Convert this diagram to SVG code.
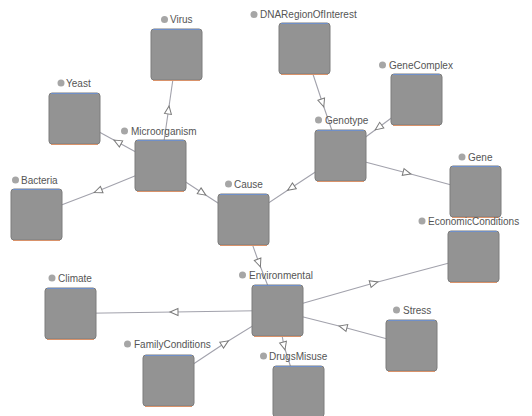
<svg xmlns="http://www.w3.org/2000/svg" width="532" height="416" viewBox="0 0 532 416">
<defs>
<marker id="tri" viewBox="-1 -5 11 10" refX="4" refY="0" markerWidth="11" markerHeight="10" markerUnits="userSpaceOnUse" orient="auto">
<path d="M0,-3.5 L8,0 L0,3.5 Z" fill="#ffffff" stroke="#7a7a7a" stroke-width="1"/>
</marker>
<style>
.edge{fill:none;stroke:#a2a2ac;stroke-width:1.1;marker-mid:url(#tri)}
.box{fill:#939393;stroke:#7c7c7c;stroke-width:1}
.top{stroke:#6f8fc8;stroke-width:1}
.bot{stroke:#d9926a;stroke-width:1}
.dot{fill:#a6a6a6}
.lbl{font-family:"Liberation Sans",Arial,sans-serif;font-size:10px;fill:#555555}
</style>
</defs>
<rect width="532" height="416" fill="#ffffff"/>
<g id="connectors">
<polyline class="edge" points="160.5,165.5 168.5,110 176.5,54.5"/>
<polyline class="edge" points="160.5,165.5 117.5,142 74.5,118.5"/>
<polyline class="edge" points="160.5,165.5 98,191 36.5,214.5"/>
<polyline class="edge" points="160.5,165.5 202.5,193 243.5,219.5"/>
<polyline class="edge" points="340.5,155.5 291,188 243.5,219.5"/>
<polyline class="edge" points="304.5,48.5 322.5,103 340.5,155.5"/>
<polyline class="edge" points="416.5,99.5 378.5,127.5 340.5,155.5"/>
<polyline class="edge" points="340.5,155.5 407,173 475.5,191.5"/>
<polyline class="edge" points="243.5,219.5 259,263 277.5,310.5"/>
<polyline class="edge" points="277.5,310.5 174,312 70.5,313.5"/>
<polyline class="edge" points="168.5,380.5 225,343 277.5,310.5"/>
<polyline class="edge" points="277.5,310.5 374,283 473.5,256.5"/>
<polyline class="edge" points="411.5,345.5 343,327 277.5,310.5"/>
<polyline class="edge" points="277.5,310.5 284,346 298.5,391.5"/>
</g>
<g id="Virus"><rect class="box" x="151" y="29" width="51" height="51" rx="3"/><line class="top" x1="153" y1="29.5" x2="200" y2="29.5"/><line class="bot" x1="153" y1="80.5" x2="200" y2="80.5"/><circle class="dot" cx="164.5" cy="19.5" r="3.5"/><text class="lbl" x="170" y="23">Virus</text></g>
<g id="Yeast"><rect class="box" x="49" y="93" width="51" height="51" rx="3"/><line class="top" x1="51" y1="93.5" x2="98" y2="93.5"/><line class="bot" x1="51" y1="144.5" x2="98" y2="144.5"/><circle class="dot" cx="61" cy="83" r="3.5"/><text class="lbl" x="66" y="86.5">Yeast</text></g>
<g id="Microorganism"><rect class="box" x="135" y="140" width="51" height="51" rx="3"/><line class="top" x1="137" y1="140.5" x2="184" y2="140.5"/><line class="bot" x1="137" y1="191.5" x2="184" y2="191.5"/><circle class="dot" cx="124.5" cy="131" r="3.5"/><text class="lbl" x="131" y="134.5">Microorganism</text></g>
<g id="Bacteria"><rect class="box" x="11" y="189" width="51" height="51" rx="3"/><line class="top" x1="13" y1="189.5" x2="60" y2="189.5"/><line class="bot" x1="13" y1="240.5" x2="60" y2="240.5"/><circle class="dot" cx="15.5" cy="180" r="3.5"/><text class="lbl" x="21" y="183.5">Bacteria</text></g>
<g id="Cause"><rect class="box" x="218" y="194" width="51" height="51" rx="3"/><line class="top" x1="220" y1="194.5" x2="267" y2="194.5"/><line class="bot" x1="220" y1="245.5" x2="267" y2="245.5"/><circle class="dot" cx="228.5" cy="184" r="3.5"/><text class="lbl" x="234" y="187.5">Cause</text></g>
<g id="DNARegionOfInterest"><rect class="box" x="279" y="23" width="51" height="51" rx="3"/><line class="top" x1="281" y1="23.5" x2="328" y2="23.5"/><line class="bot" x1="281" y1="74.5" x2="328" y2="74.5"/><circle class="dot" cx="254" cy="14.5" r="3.5"/><text class="lbl" x="260" y="18">DNARegionOfInterest</text></g>
<g id="GeneComplex"><rect class="box" x="391" y="74" width="51" height="51" rx="3"/><line class="top" x1="393" y1="74.5" x2="440" y2="74.5"/><line class="bot" x1="393" y1="125.5" x2="440" y2="125.5"/><circle class="dot" cx="382.5" cy="65" r="3.5"/><text class="lbl" x="389" y="68.5">GeneComplex</text></g>
<g id="Genotype"><rect class="box" x="315" y="130" width="51" height="51" rx="3"/><line class="top" x1="317" y1="130.5" x2="364" y2="130.5"/><line class="bot" x1="317" y1="181.5" x2="364" y2="181.5"/><circle class="dot" cx="318.5" cy="120" r="3.5"/><text class="lbl" x="325" y="123.5">Genotype</text></g>
<g id="Gene"><rect class="box" x="450" y="166" width="51" height="51" rx="3"/><line class="top" x1="452" y1="166.5" x2="499" y2="166.5"/><line class="bot" x1="452" y1="217.5" x2="499" y2="217.5"/><circle class="dot" cx="462" cy="157" r="3.5"/><text class="lbl" x="468" y="160.5">Gene</text></g>
<g id="EconomicConditions"><rect class="box" x="448" y="231" width="51" height="51" rx="3"/><line class="top" x1="450" y1="231.5" x2="497" y2="231.5"/><line class="bot" x1="450" y1="282.5" x2="497" y2="282.5"/><circle class="dot" cx="422" cy="221" r="3.5"/><text class="lbl" x="428" y="224.5">EconomicConditions</text></g>
<g id="Climate"><rect class="box" x="45" y="288" width="51" height="51" rx="3"/><line class="top" x1="47" y1="288.5" x2="94" y2="288.5"/><line class="bot" x1="47" y1="339.5" x2="94" y2="339.5"/><circle class="dot" cx="52" cy="278" r="3.5"/><text class="lbl" x="58" y="281.5">Climate</text></g>
<g id="Environmental"><rect class="box" x="252" y="285" width="51" height="51" rx="3"/><line class="top" x1="254" y1="285.5" x2="301" y2="285.5"/><line class="bot" x1="254" y1="336.5" x2="301" y2="336.5"/><circle class="dot" cx="242.5" cy="275" r="3.5"/><text class="lbl" x="249" y="278.5">Environmental</text></g>
<g id="FamilyConditions"><rect class="box" x="143" y="355" width="51" height="51" rx="3"/><line class="top" x1="145" y1="355.5" x2="192" y2="355.5"/><line class="bot" x1="145" y1="406.5" x2="192" y2="406.5"/><circle class="dot" cx="127.5" cy="344" r="3.5"/><text class="lbl" x="134" y="347.5">FamilyConditions</text></g>
<g id="Stress"><rect class="box" x="386" y="320" width="51" height="51" rx="3"/><line class="top" x1="388" y1="320.5" x2="435" y2="320.5"/><line class="bot" x1="388" y1="371.5" x2="435" y2="371.5"/><circle class="dot" cx="396.5" cy="310" r="3.5"/><text class="lbl" x="403" y="313.5">Stress</text></g>
<g id="DrugsMisuse"><rect class="box" x="273" y="366" width="51" height="51" rx="3"/><line class="top" x1="275" y1="366.5" x2="322" y2="366.5"/><circle class="dot" cx="263.5" cy="356" r="3.5"/><text class="lbl" x="269" y="359.5">DrugsMisuse</text></g>
</svg>
